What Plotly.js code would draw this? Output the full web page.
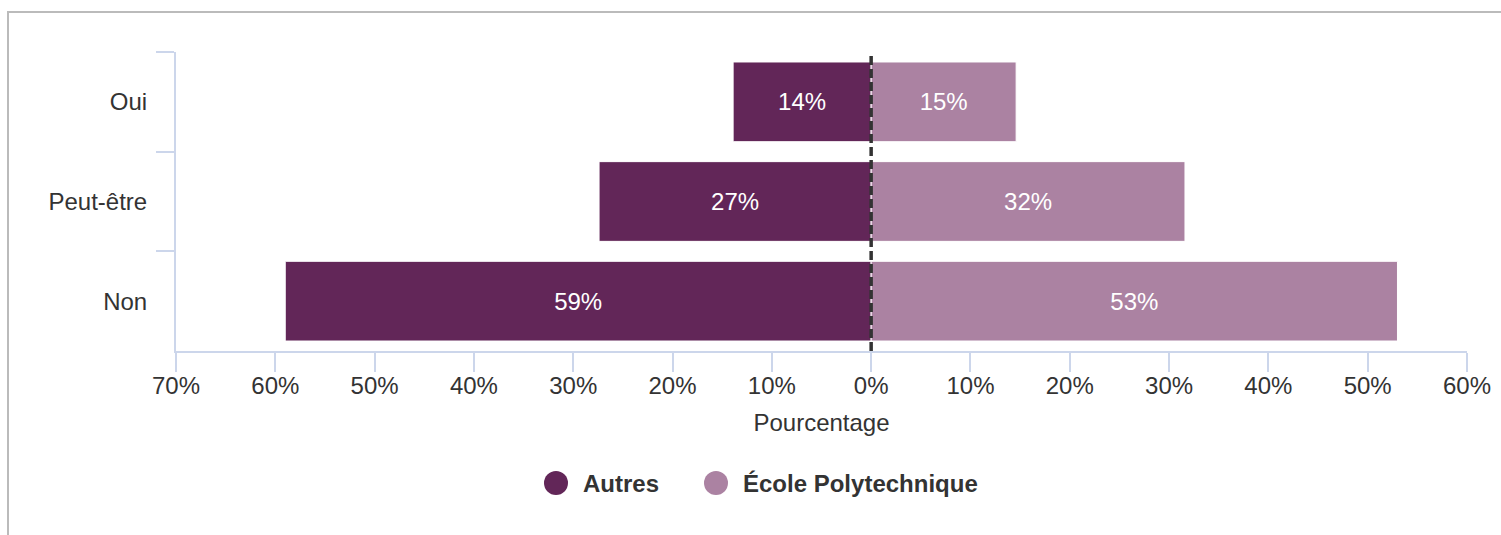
<!DOCTYPE html>
<html>
<head>
<meta charset="utf-8">
<script src="https://cdn.plot.ly/plotly-3.0.1.min.js"></script>
<style>
  html, body { margin: 0; padding: 0; background: #ffffff; }
  #chart { width: 1501px; height: 535px; }
</style>
</head>
<body>
<div id="chart"></div>
<script>
// ---- data ----
const categories = ['Oui', 'Peut-être', 'Non'];
const seriesNames = ['Autres', 'École Polytechnique'];
const autresValues = [13.9, 27.4, 59.0];
const ecoleValues = [14.6, 31.6, 53.0];
const tickValues = [-70, -60, -50, -40, -30, -20, -10, 0, 10, 20, 30, 40, 50, 60];
const tickLabels = ['70%', '60%', '50%', '40%', '30%', '20%', '10%', '0%', '10%', '20%', '30%', '40%', '50%', '60%'];

// ---- style ----
const colAutres = '#622658';
const colEcole = '#ab82a2';
const axisCol = '#ccd6eb';
const textCol = '#333333';
const FONT = '"Liberation Sans", Arial, Helvetica, sans-serif';
const FS = 24;

const W = 1501, H = 535;
const M = { l: 176, r: 34, t: 52, b: 184 };
const PW = W - M.l - M.r, PH = H - M.t - M.b;
const px = (x) => (x - M.l) / PW;
const py = (y) => (H - M.b - y) / PH;

const traces = [
  {
    type: 'bar', orientation: 'h', name: seriesNames[0],
    y: categories, x: autresValues.map(v => -v),
    text: autresValues.map(v => Math.round(v) + '%'),
    texttemplate: '%{text}', textposition: 'inside', insidetextanchor: 'middle',
    textfont: { family: FONT, size: FS, color: '#ffffff' },
    marker: { color: colAutres, line: { color: '#ffffff', width: 1 } },
    hoverinfo: 'skip', showlegend: false
  },
  {
    type: 'bar', orientation: 'h', name: seriesNames[1],
    y: categories, x: ecoleValues,
    text: ecoleValues.map(v => Math.round(v) + '%'),
    texttemplate: '%{text}', textposition: 'inside', insidetextanchor: 'middle',
    textfont: { family: FONT, size: FS, color: '#ffffff' },
    marker: { color: colEcole, line: { color: '#ffffff', width: 1 } },
    hoverinfo: 'skip', showlegend: false
  }
];

// manual legend (circles + bold labels)
const legendItems = [
  { color: colAutres, cx: 556, tx: 581, label: seriesNames[0] },
  { color: colEcole, cx: 716, tx: 741, label: seriesNames[1] }
];
const legY = 483, r = 12;

const shapes = [
  // dashed zero line
  { type: 'line', xref: 'x', yref: 'paper', x0: 0, x1: 0, y0: 0, y1: 1,
    line: { color: '#333333', width: 3.5, dash: '9px,4px' }, layer: 'above' },
  // border top & left
  { type: 'line', xref: 'paper', yref: 'paper', x0: px(7), x1: px(1501), y0: py(12), y1: py(12),
    line: { color: '#bbbbbb', width: 2 } },
  { type: 'line', xref: 'paper', yref: 'paper', x0: px(8), x1: px(8), y0: py(11), y1: py(536),
    line: { color: '#bbbbbb', width: 2 } }
];
const annotations = [];
legendItems.forEach(it => {
  shapes.push({ type: 'circle', xref: 'paper', yref: 'paper',
    x0: px(it.cx - r), x1: px(it.cx + r), y0: py(legY + r), y1: py(legY - r),
    fillcolor: it.color, line: { width: 0 } });
  annotations.push({ xref: 'paper', yref: 'paper', x: px(it.tx), y: py(legY),
    xanchor: 'left', yanchor: 'middle', showarrow: false, text: '<b>' + it.label + '</b>',
    font: { family: FONT, size: FS, color: textCol } });
});

const layout = {
  width: W, height: H,
  margin: M,
  paper_bgcolor: '#ffffff', plot_bgcolor: '#ffffff',
  barmode: 'relative', bargap: 0.2,
  showlegend: false,
  font: { family: FONT, size: FS, color: textCol },
  xaxis: {
    range: [-70, 60], tickvals: tickValues, ticktext: tickLabels,
    showgrid: false, zeroline: false,
    showline: true, linecolor: axisCol, linewidth: 2,
    ticks: 'outside', ticklen: 19, tickwidth: 2, tickcolor: axisCol,
    ticklabelstandoff: -7,
    tickfont: { family: FONT, size: FS, color: textCol },
    title: { text: 'Pourcentage', font: { family: FONT, size: FS, color: textCol }, standoff: 16 }
  },
  yaxis: {
    type: 'category', categoryorder: 'array', categoryarray: categories,
    range: [2.5, -0.5],
    showgrid: false, zeroline: false,
    showline: true, linecolor: axisCol, linewidth: 2,
    ticks: 'outside', tickson: 'boundaries', ticklen: 18, tickwidth: 2, tickcolor: axisCol,
    ticklabelstandoff: 22,
    tickfont: { family: FONT, size: FS, color: textCol }
  },
  shapes: shapes,
  annotations: annotations
};

Plotly.newPlot('chart', traces, layout, { staticPlot: true, displayModeBar: false });
</script>
</body>
</html>
